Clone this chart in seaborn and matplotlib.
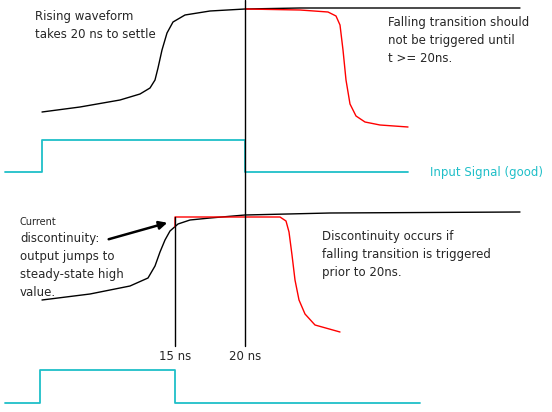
import matplotlib
matplotlib.use("Agg")
import matplotlib.pyplot as plt
import seaborn as sns

sns.set_theme(style="white")
plt.rcParams['font.family'] = ['DejaVu Sans']

CYAN = "#1fbfc8"

# top panel curves (pixel-like coordinates, y down)
rise_x = [42, 80, 120, 140, 150, 155, 158, 162, 167, 173, 185, 210, 245, 300, 400, 520]
rise_y = [112, 107, 100, 94, 88, 80, 68, 50, 33, 22, 15, 11, 9, 8, 8, 8]
fall_x = [245, 300, 328, 336, 340, 343, 346, 350, 356, 365, 380, 408]
fall_y = [9, 10, 12, 16, 25, 50, 80, 104, 116, 122, 125, 127]
sig1_x = [5, 42, 42, 245, 245, 408]
sig1_y = [172, 172, 140, 140, 172, 172]

# bottom panel curves
rise2_x = [42, 90, 130, 148, 155, 160, 165, 170, 178, 190, 210, 245, 330, 520]
rise2_y = [300, 294, 286, 278, 266, 252, 240, 231, 224, 220, 218, 215, 213, 212]
fall2_x = [175, 175, 280, 286, 289, 292, 295, 299, 305, 315, 340]
fall2_y = [227, 217, 217, 221, 232, 255, 280, 300, 314, 325, 332]
sig2_x = [5, 40, 40, 175, 175, 420]
sig2_y = [403, 403, 370, 370, 403, 403]

fig, ax = plt.subplots(figsize=(5.52, 4.12), dpi=100)
fig.subplots_adjust(0, 0, 1, 1)

for xs, ys, c, w in [(rise_x, rise_y, "black", 1), (fall_x, fall_y, "red", 1),
                     (sig1_x, sig1_y, CYAN, 1.3), (rise2_x, rise2_y, "black", 1),
                     (fall2_x, fall2_y, "red", 1), (sig2_x, sig2_y, CYAN, 1.3)]:
    sns.lineplot(x=xs, y=ys, ax=ax, color=c, lw=w, sort=False, estimator=None)

ax.plot([245, 245], [0, 346], color="black", lw=1)
ax.plot([175, 175], [217, 346], color="black", lw=1)

ax.annotate("", xy=(170, 222), xytext=(106, 240),
            arrowprops=dict(arrowstyle="-|>", color="black", lw=1.8))

fs = 8.5
ax.text(35, 10, "Rising waveform\ntakes 20 ns to settle", fontsize=fs, va="top", linespacing=1.5)
ax.text(388, 16, "Falling transition should\nnot be triggered until\nt >= 20ns.",
        fontsize=fs, va="top", linespacing=1.5)
ax.text(430, 172, "Input Signal (good)", fontsize=fs, color=CYAN, va="center")
ax.text(20, 222, "Current", fontsize=7, va="center")
ax.text(20, 232, "discontinuity:\noutput jumps to\nsteady-state high\nvalue.",
        fontsize=fs, va="top", linespacing=1.5)
ax.text(322, 230, "Discontinuity occurs if\nfalling transition is triggered\nprior to 20ns.",
        fontsize=fs, va="top", linespacing=1.5)
ax.text(175, 356, "15 ns", fontsize=fs, ha="center", va="center")
ax.text(245, 356, "20 ns", fontsize=fs, ha="center", va="center")

ax.set_xlim(0, 552)
ax.set_ylim(412, 0)
ax.axis("off")
fig.savefig("out.png", dpi=100)
